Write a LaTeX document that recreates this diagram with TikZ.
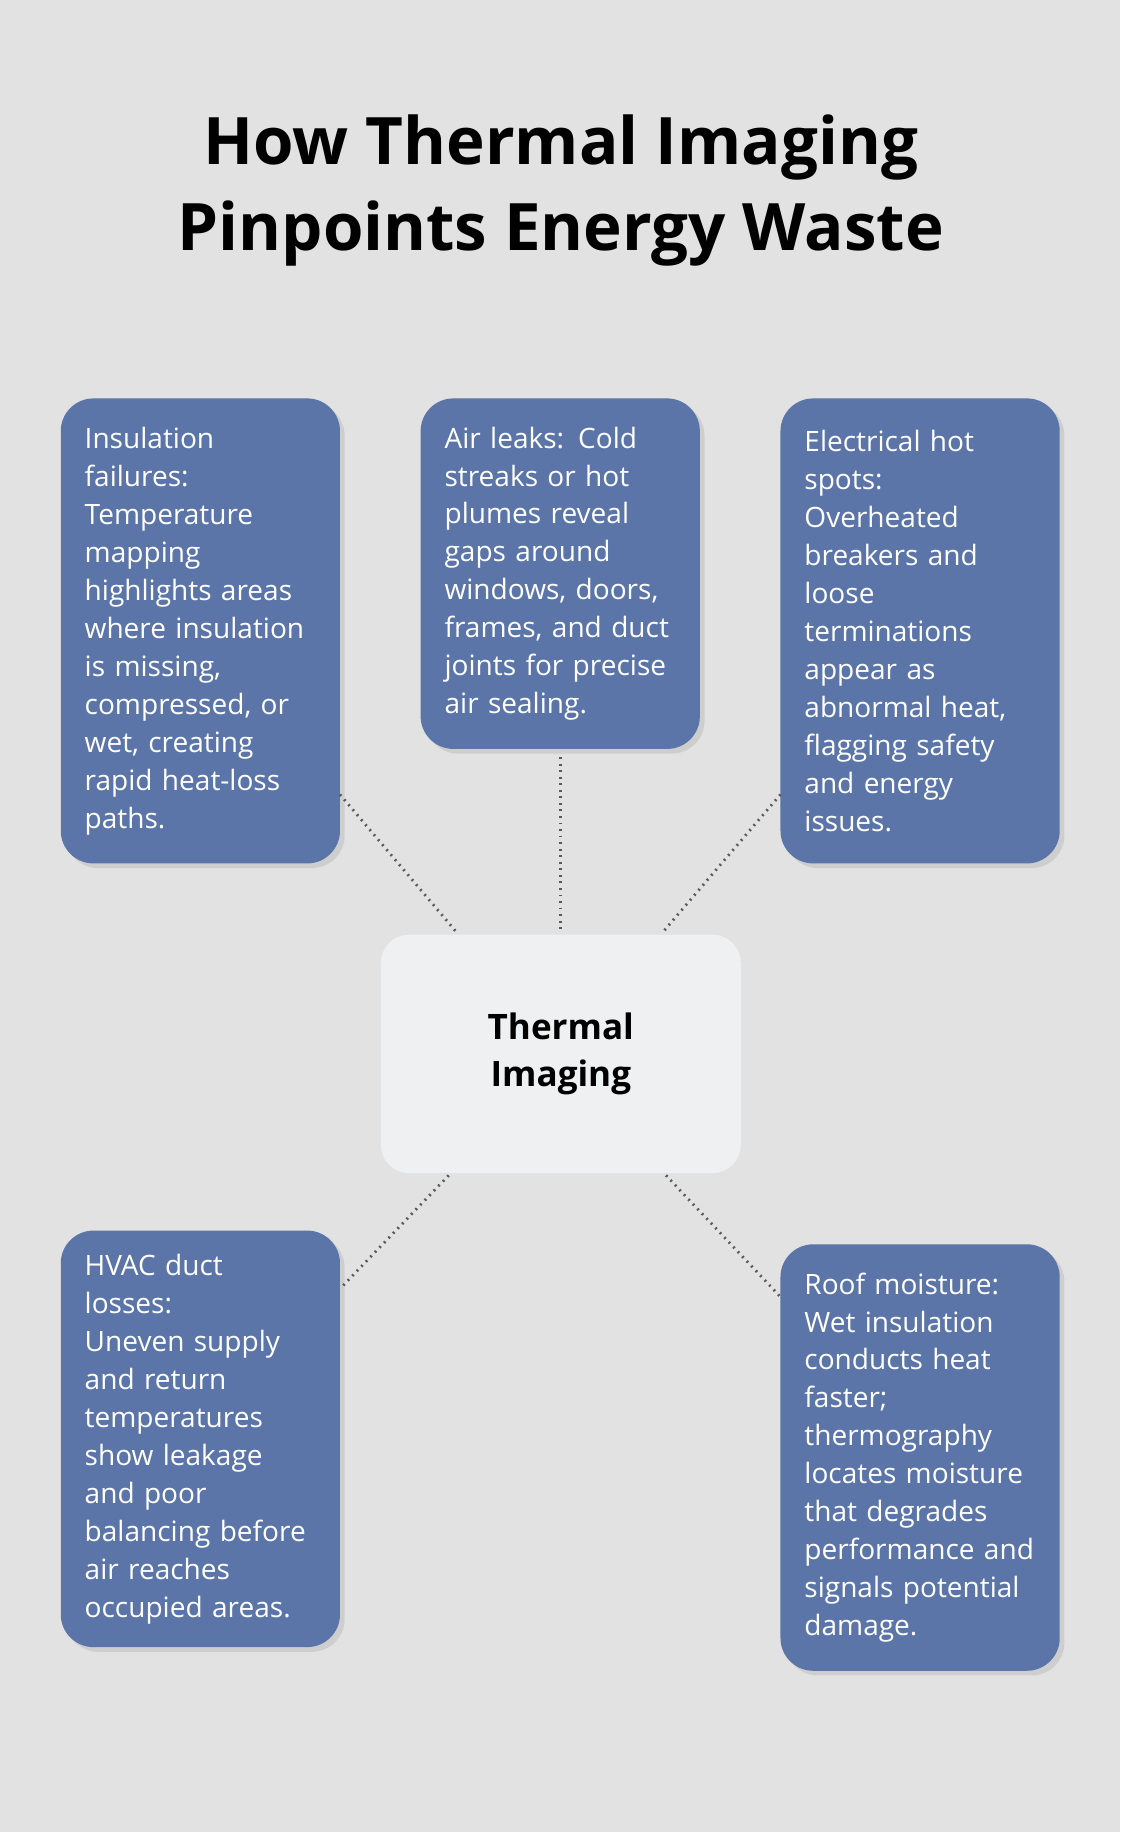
\documentclass[tikz,border=0pt]{standalone}
\usepackage{fontspec}
\setmainfont{Open Sans}
\usetikzlibrary{positioning,shadows}
\definecolor{bg}{HTML}{E1E2E1}
\definecolor{boxblue}{HTML}{5B75A8}
\definecolor{centrefill}{HTML}{EFF0F2}
\tikzset{
  item/.style = {draw = none, fill = boxblue, rounded corners = 14pt, text = white,
    text width = 99pt, inner sep = 10pt, align = left, minimum width = 119.5pt,
    font = \fontsize{12}{16.25}\selectfont, drop shadow = {opacity = 0.2, shadow xshift = 2pt, shadow yshift = -2pt}},
  link/.style = {thick, dotted, line width = 1.2pt, black!65}
}
\begin{document}
\begin{tikzpicture}[x = 0.5pt, y = -0.5pt]
	\fill[bg] (0, 0) rectangle (959, 1568);
	\useasboundingbox (0, 0) rectangle (959, 1568);
	\node[font = \bfseries\fontsize{28}{36.5}\selectfont, align = center] (title) at (480, 163) {How Thermal Imaging\\Pinpoints Energy Waste};
	\node[item, minimum height = 199pt] (ins) at (171.5, 540) {Insulation\\failures:\\Temperature\\mapping\\highlights areas\\where insulation\\is missing,\\compressed, or\\wet, creating\\rapid heat-loss\\paths.};
	\node[item, minimum height = 150pt] (air) at (479.5, 491) {Air leaks: Cold\\streaks or hot\\plumes reveal\\gaps around\\windows, doors,\\frames, and duct\\joints for precise\\air sealing.};
	\node[item, minimum height = 199pt] (elec) at (787.5, 540) {Electrical hot\\spots:\\Overheated\\breakers and\\loose\\terminations\\appear as\\abnormal heat,\\flagging safety\\and energy\\issues.};
	\node[fill = centrefill, rounded corners = 12pt, minimum width = 154pt, minimum height = 102pt, align = center,
		font = \bfseries\fontsize{15}{20}\selectfont] (core) at (480, 902) {Thermal\\Imaging};
	\node[item, minimum height = 166.5pt] (hvac) at (171.5, 1231.5) {HVAC duct losses:\\Uneven supply\\and return\\temperatures\\show leakage\\and poor\\balancing before\\air reaches\\occupied areas.};
	\node[item, minimum height = 182.5pt] (roof) at (787.5, 1247.5) {Roof moisture:\\Wet insulation\\conducts heat\\faster;\\thermography\\locates moisture\\that degrades\\performance and\\signals potential\\damage.};
	% connectors
	\coordinate (insEnd) at (291, 680);
	\coordinate (airEnd) at (480, 648);
	\coordinate (elecEnd) at (668, 680);
	\coordinate (hvacEnd) at (291, 1103);
	\coordinate (roofEnd) at (668, 1110);
	\coordinate (coreNW) at (390, 797);
	\coordinate (coreN) at (480, 797);
	\coordinate (coreNE) at (568, 797);
	\coordinate (coreSW) at (384, 1006);
	\coordinate (coreSE) at (570, 1006);
	\draw[link] (insEnd) -- (coreNW);
	\draw[link] (airEnd) -- (coreN);
	\draw[link] (elecEnd) -- (coreNE);
	\draw[link] (coreSW) -- (hvacEnd);
	\draw[link] (coreSE) -- (roofEnd);
\end{tikzpicture}
\end{document}
